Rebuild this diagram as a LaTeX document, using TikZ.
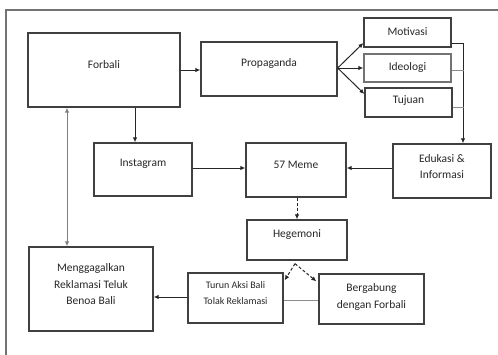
\documentclass[tikz,border=0pt]{standalone}
\usepackage{fontspec}
\setmainfont{Carlito}
\usetikzlibrary{arrows.meta}
\begin{document}
\begin{tikzpicture}[x=1pt,y=-1pt,
  box/.style={draw=black!75,line width=1.3pt,inner sep=0pt,rectangle},
  txt/.style={inner sep=0pt,align=center,text=black!85,font=\fontsize{11.5}{16.5}\selectfont},
  arr/.style={draw=black!85,line width=1pt,-{Latex[length=5pt,width=4.5pt]}},
  darr/.style={arr,dashed,dash pattern=on 3pt off 2pt},
  thinline/.style={draw=black!45,line width=0.8pt}]
\clip (0,0) rectangle (498,354);
\useasboundingbox (0,0) rectangle (498,354);
\draw[draw=black!55,line width=1.2pt] (6,10) rectangle (520,380);
% boxes
\node[box,minimum width=152pt,minimum height=74pt] (forbali) at (104,70) {};
\node[txt] (forbalit) at (104,65) {Forbali};
\node[box,minimum width=136pt,minimum height=54pt] (propaganda) at (269,69) {};
\node[txt] (propagandat) at (269,63) {Propaganda};
\node[box,minimum width=87pt,minimum height=29pt] (motivasi) at (407.5,32.5) {};
\node[txt] (motivasit) at (407.5,32) {Motivasi};
\node[box,draw=black!55,minimum width=87pt,minimum height=28pt] (ideologi) at (407.5,68) {};
\node[txt] (ideologit) at (407.5,67) {Ideologi};
\node[box,minimum width=87pt,minimum height=29pt] (tujuan) at (408.5,102.5) {};
\node[txt] (tujuant) at (408.5,101) {Tujuan};
\node[box,minimum width=98pt,minimum height=54pt] (edukasi) at (442,171) {};
\node[txt] (edukasit) at (442,166.5) {Edukasi \&\\Informasi};
\node[box,minimum width=100pt,minimum height=54pt] (meme) at (296,170) {};
\node[txt] (memet) at (296,165) {57 Meme};
\node[box,minimum width=98pt,minimum height=53pt] (instagram) at (143,169.5) {};
\node[txt] (instagramt) at (143,164) {Instagram};
\node[box,minimum width=100pt,minimum height=40pt] (hegemoni) at (297,240) {};
\node[txt] (hegemonit) at (297,235) {Hegemoni};
\node[box,minimum width=95pt,minimum height=50pt] (turun) at (235.5,298) {};
\node[txt,font=\fontsize{10}{16}\selectfont] (turunt) at (235.5,293) {Turun Aksi Bali\\Tolak Reklamasi};
\node[box,minimum width=105pt,minimum height=50pt] (bergabung) at (371.5,299) {};
\node[txt] (bergabungt) at (371.5,297) {Bergabung\\dengan Forbali};
\node[box,minimum width=124pt,minimum height=84pt] (mengg) at (91,289) {};
\node[txt] (menggt) at (91,284.5) {Menggagalkan\\Reklamasi Teluk\\Benoa Bali};
% connectors
\draw[arr] (forbali.east) -- (forbali.east -| propaganda.west);
\draw[arr] ([xshift=31pt]forbali.south) -- ([xshift=31pt]forbali.south |- instagram.north);
\coordinate (fan) at ([yshift=1pt]propaganda.east);
\draw[arr] (fan) -- ([yshift=-10.5pt]motivasi.west);
\draw[arr] (fan) -- (ideologi.west);
\draw[arr] (fan) -- ([yshift=8.5pt]tujuan.west);
\draw[arr] ([yshift=-10.5pt]motivasi.east) -| ([xshift=21pt]edukasi.north);
\draw[thinline] ([yshift=-2pt]ideologi.east) -- ++(12,0);
\draw[thinline] ([yshift=-4.5pt]tujuan.east) -- ++(11,0);
\draw[arr] ([yshift=3pt]edukasi.west) -- ([yshift=3pt]edukasi.west -| meme.east);
\draw[arr] ([yshift=1.5pt]instagram.east) -- ([yshift=1.5pt]instagram.east -| meme.west);
\draw[darr] ([xshift=1pt]meme.south) -- (hegemoni.north);
\coordinate (apex) at ([xshift=-2pt,yshift=-3pt]hegemoni.south);
\draw[darr] (apex) -- ([xshift=1pt,yshift=-8pt]turun.north east);
\draw[darr] (apex) -- ([xshift=-2pt,yshift=-8pt]bergabung.north west);
\draw[thinline] ([yshift=-2pt]turun.east) -- ([yshift=-2pt]turun.east -| bergabung.west);
\draw[arr] ([yshift=1pt]turun.west) -- ([yshift=1pt]turun.west -| mengg.east);
\draw[arr,draw=black!50,{Latex[length=5pt,width=4.5pt]}-{Latex[length=5pt,width=4.5pt]}] ([xshift=-37pt]forbali.south) -- ([xshift=-37pt]forbali.south |- mengg.north);
\end{tikzpicture}
\end{document}
